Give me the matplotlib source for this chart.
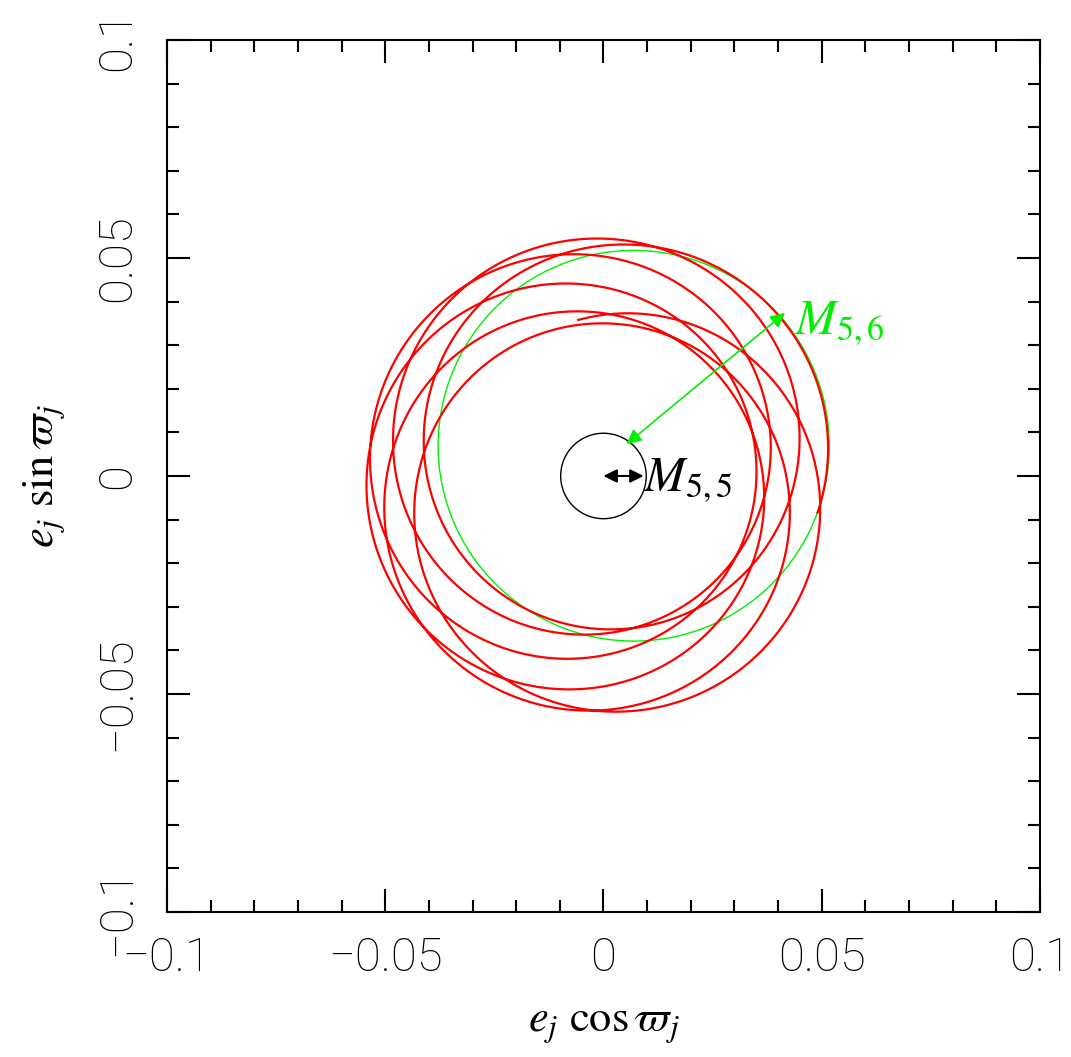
import numpy as np
import matplotlib.pyplot as plt
from matplotlib.patches import Circle

plt.rcParams['mathtext.fontset'] = 'stix'

# secular modes of the eccentricity vector (amplitude, turns over the run, final phase in deg)
M55 = 0.0098
M56 = 0.0448
n_cycles = [0.742, 6.35]       # g5, g6 turns over the run
end_phase = [312.0, 106.0]     # phase of each mode at the end of the run

# green circle: M56 loop drawn about the starting position of the M55 vector
green_angle = 45.0

# axis setup
lim = [-0.1, 0.1]
major_ticks = [-0.1, -0.05, 0.0, 0.05, 0.1]
tick_labels = ['\u22120.1', '\u22120.05', '0', '0.05', '0.1']
minor_ticks = np.arange(-0.1, 0.1001, 0.01)

tick_font = dict(family=['Roboto', 'DejaVu Sans'], weight='light', fontsize=34)

# build the trajectory from the two modes
t = np.linspace(0.0, 1.0, 6000)
th5 = np.radians(end_phase[0] - 360 * n_cycles[0] * (1 - t))
th6 = np.radians(end_phase[1] - 360 * n_cycles[1] * (1 - t))
ex = M55 * np.cos(th5) + M56 * np.cos(th6)
ey = M55 * np.sin(th5) + M56 * np.sin(th6)

fig = plt.figure(figsize=(10.71, 10.57), dpi=100)
ax = fig.add_axes([0.1559, 0.1372, 0.8151, 0.8250])

ax.plot(ex, ey, color='red', lw=1.6)

gc = (M55 * np.cos(np.radians(green_angle)), M55 * np.sin(np.radians(green_angle)))
ax.add_patch(Circle(gc, M56, fill=False, ec='#00ee00', lw=1.0))
ax.add_patch(Circle((0, 0), M55, fill=False, ec='black', lw=1.0))

# M56 arrow from the small circle out to the green loop
ax.annotate('', xy=(0.0416, 0.0374), xytext=(0.0053, 0.0073),
            arrowprops=dict(arrowstyle='<|-|>', color='#00ee00', lw=1.2,
                            mutation_scale=22, shrinkA=0, shrinkB=0))
ax.text(0.0438, 0.0350, r'$M_{5,6}$', color='#00ee00', fontsize=35,
        ha='left', va='center')

# M55 arrow: centre to edge of the small circle
ax.annotate('', xy=(0.0092, 0.0), xytext=(0.0, 0.0),
            arrowprops=dict(arrowstyle='<|-|>', color='black', lw=1.5,
                            mutation_scale=20, shrinkA=0, shrinkB=0))
ax.text(0.0093, -0.0010, r'$M_{5,5}$', color='black', fontsize=35,
        ha='left', va='center')

ax.set_xlim(lim)
ax.set_ylim(lim)
ax.set_xticks(major_ticks)
ax.set_yticks(major_ticks)
ax.set_xticks(minor_ticks, minor=True)
ax.set_yticks(minor_ticks, minor=True)
ax.set_xticklabels(tick_labels, **tick_font)
ax.set_yticklabels(tick_labels, rotation=90, va='center', **tick_font)
ax.tick_params(which='both', direction='in', top=True, right=True, width=1.5)
ax.tick_params(which='major', length=16.5)
ax.tick_params(which='minor', length=8.5)
ax.tick_params(axis='x', which='major', pad=17)
ax.tick_params(axis='y', which='major', pad=20)
for s in ax.spines.values():
    s.set_linewidth(1.5)

ax.set_xlabel(r'$e_j\ \cos\varpi_j$', fontsize=32, labelpad=16)
ax.set_ylabel(r'$e_j\ \sin\varpi_j$', fontsize=32, labelpad=20)

fig.savefig('out.png', dpi=100)
